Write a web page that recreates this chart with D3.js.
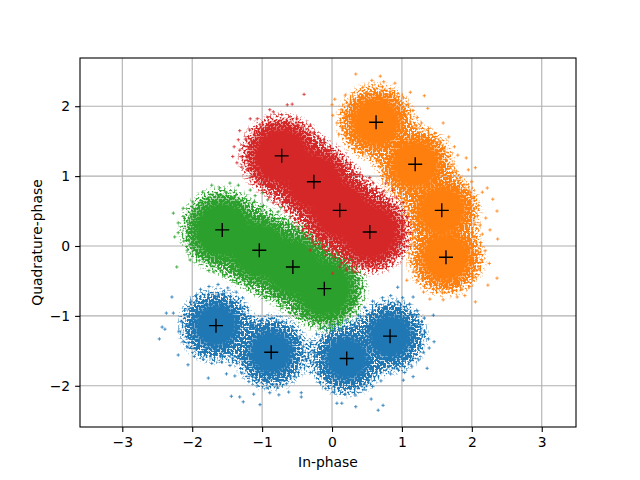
<!DOCTYPE html>
<html><head><meta charset="utf-8">
<script src="https://cdn.jsdelivr.net/npm/d3@7"></script>
<style>html,body{margin:0;padding:0;background:#fff}svg{display:block}text{font-family:"DejaVu Sans",sans-serif}</style>
</head><body><div id="c"></div>
<script>
const xTicks=[-3,-2,-1,0,1,2,3], yTicks=[-2,-1,0,1,2];
const xLabel="In-phase", yLabel="Quadrature-phase";
const constellationI=[-1.66,-0.87,0.21,0.83,0.63,1.19,1.57,1.63,-0.72,-0.26,0.11,0.54,-1.57,-1.04,-0.56,-0.11];
const constellationQ=[-1.14,-1.52,-1.61,-1.29,1.77,1.17,0.51,-0.16,1.29,0.92,0.51,0.20,0.23,-0.06,-0.30,-0.61];
const seriesNames=["blue","orange","green","red"];
const seriesColors=["#1f77b4","#ff7f0e","#2ca02c","#d62728"];
const blueDense=[[-1.66,-1.14],[-0.87,-1.52],[0.21,-1.61],[0.83,-1.29]];
const orangeDense=[[0.63,1.77],[1.19,1.17],[1.57,0.51],[1.63,-0.16]];
const greenDense=[[-1.57,0.23],[-1.04,-0.06],[-0.56,-0.30],[-0.11,-0.61]];
const redDense=[[-0.72,1.29],[-0.26,0.92],[0.11,0.51],[0.54,0.20]];
const blueCloud=[[-2.47,-1.33],[-2.43,-1.16],[-2.39,-1.19],[-2.37,-0.96],[-2.29,-0.73],[-2.27,-0.96],[-2.2,-1.56],[-2.06,-1.7],[-1.77,-1.89],[-1.44,-2.15],[-1.32,-2.16],[-1.27,-2.23],[-1.03,-2.27],[-1.12,-2.12],[-0.89,-2.1],[-0.76,-2.13],[-0.44,-2.1],[-0.44,-2.16],[0.07,-2.25],[0.14,-2.25],[0.34,-2.3],[0.56,-2.19],[0.66,-2.35],[0.73,-2.28],[0.94,-0.59],[0.94,-0.8],[1.16,-0.73],[1.32,-1.03],[1.45,-0.99],[1.46,-1.37],[1.39,-1.46],[1.36,-1.75],[1.16,-1.87],[1.02,-1.92],
[-2.11,-0.92],[-2.16,-1.08],[-2.19,-1.22],[-2.13,-1.37],[-2.06,-1.45],[-2.02,-0.79],[-1.95,-0.71],[-1.88,-0.62],[-1.76,-0.58],[-1.63,-0.55],[-1.49,-0.6],[-1.37,-0.66],[-1.28,-0.74],[-1.21,-0.88],[-1.16,-1.01],[-1.12,-1.13],[-1.97,-1.58],[-1.84,-1.62],[-1.72,-1.68],[-1.58,-1.66],[-1.46,-1.71],[-2.05,-1.12],[-2.01,-1.29],[-1.99,-0.98],[-1.94,-1.47],[-1.82,-0.79],[-1.56,-0.68],[-1.34,-1.58],[-1.51,-1.83],[-1.39,-1.86],
[-1.31,-1.42],[-1.36,-1.68],[-1.29,-1.82],[-1.19,-1.94],[-1.07,-2.0],[-0.93,-2.03],[-0.78,-2.02],[-0.65,-1.97],[-0.53,-1.87],[-0.45,-1.74],[-0.38,-1.62],[-0.41,-1.44],[-0.47,-1.3],[-0.56,-1.16],[-0.71,-1.08],[-0.86,-1.03],[-1.01,-1.06],[-0.31,-1.81],[-0.27,-1.52],[-1.23,-1.73],[-0.62,-2.09],[-1.1,-1.88],[-0.96,-1.9],[-0.7,-1.92],
[-0.26,-1.67],[-0.21,-1.82],[-0.18,-1.95],[-0.09,-2.04],[0.03,-2.09],[0.19,-2.12],[0.33,-2.13],[0.46,-2.05],[0.58,-2.01],[0.7,-1.93],[0.84,-1.83],[0.94,-1.76],[-0.3,-1.38],[-0.22,-1.26],[-0.13,-1.17],[-0.03,-1.13],[0.08,-1.11],[0.2,-1.06],[0.27,-1.17],[0.12,-2.0],[0.26,-2.04],[0.41,-1.96],[-0.05,-1.94],
[0.38,-0.99],[0.47,-0.88],[0.58,-0.79],[0.72,-0.74],[0.84,-0.71],[1.01,-0.74],[1.11,-0.83],[1.22,-0.93],[1.28,-1.08],[1.33,-1.23],[1.38,-1.33],[1.31,-1.52],[1.24,-1.63],[1.14,-1.72],[1.04,-1.81],[1.21,-1.13],[1.26,-1.42],[1.18,-0.98],[0.95,-1.68],[1.09,-1.59]];
const orangeCloud=[[0.34,2.46],[0.69,2.43],[0,2.02],[0.04,2.1],[0.19,2.16],[0.44,2.27],[0.57,2.37],[0.9,2.33],[1.12,2.2],[1.32,2.15],[1.37,1.97],[1.59,1.76],[1.67,1.56],[1.75,1.42],[1.92,1.26],[2.05,1.12],[1.95,1.09],[2.22,0.83],[2.3,0.67],[2.36,0.5],[2.26,0.23],[2.37,0.1],[2.36,-0.46],[2.23,-0.56],[2.05,-0.8],[1.79,-0.73],[1.59,-0.77],[1.4,-0.76],[1.07,-0.49],[1.14,-0.23],[0.01,1.87],[0.07,1.76],
[0.13,1.95],[0.17,1.84],[0.14,1.69],[0.19,1.58],[0.26,1.48],[0.33,1.39],[0.44,1.33],[0.57,1.31],[0.24,2.02],[0.31,2.1],[0.39,2.13],[0.5,2.19],[0.61,2.24],[0.72,2.28],[0.83,2.21],[0.94,2.18],[1.02,2.12],[1.09,2.03],[1.16,1.94],[1.22,1.84],[1.28,1.76],[1.38,1.68],[1.47,1.61],[1.53,1.49],[1.6,1.4],[1.66,1.28],[1.73,1.17],[1.78,1.07],[1.84,0.98],[1.89,0.88],[1.96,0.79],[2.03,0.7],[2.1,0.58],[2.08,0.43],[2.12,0.3],[2.15,0.17],[2.13,0.05],[2.19,-0.07],[2.14,-0.2],[2.1,-0.33],[2.03,-0.45],[1.97,-0.58],[1.86,-0.62],[1.72,-0.65],[1.58,-0.67],[1.45,-0.62],[1.32,-0.58],[1.22,-0.49],[1.17,-0.36],[1.11,-0.11],[1.13,0.02],[1.18,0.12],[1.22,0.24],[1.14,0.33],[1.09,0.47],[1.03,0.63],[0.96,0.75],[0.86,0.88],[0.78,1.02],[0.72,1.15],[0.83,1.28],[0.67,1.23],[1.8,1.3],[1.74,0.92],[2.0,0.92],[2.15,0.77],[1.98,0.57],[2.2,0.4],[2.04,0.13],[2.06,-0.12],[2.25,-0.25],[1.9,-0.71],[1.67,-0.59],[1.31,-0.66],[1.0,0.3],[1.14,0.73],[0.93,0.96],[0.48,2.03],[0.79,2.1],[1.04,1.93],[1.2,1.72],[1.42,1.48],[0.22,1.92],[0.1,1.6],[0.74,2.35],[1.87,0.72],[1.95,0.25]];
const greenCloud=[[-1.72,0.87],[-1.46,0.9],[-1.85,0.77],[-1.99,0.63],[-2.13,0.54],[-2.27,0.47],[-2.2,0.33],[-2.2,0.19],[-2.25,0.13],[-2.07,-0.06],[-2.03,-0.2],[-2.22,-0.3],[-1.34,0.87],[-1.17,0.8],[-0.99,0.76],[-0.77,0.49],[-0.5,0.23],[-0.27,0.04],[0.01,-0.17],[0.3,-0.39],[0.43,-0.6],[0.36,-0.8],[0.16,-0.96],[-0.03,-1.16],[-0.27,-1.1],[-0.6,-0.96],[-0.84,-0.73],[-1.07,-0.53],[-1.42,-0.49],[-1.63,-0.24],[-1.36,-0.53],
[-1.96,0.45],[-2.04,0.34],[-2.07,0.21],[-2.05,0.09],[-1.99,-0.02],[-1.93,-0.11],[-1.84,-0.19],[-1.74,-0.27],[-1.52,-0.32],[-1.41,-0.36],[-1.27,-0.42],[-1.18,-0.47],[-1.86,0.6],[-1.77,0.69],[-1.64,0.74],[-1.52,0.77],[-1.38,0.72],[-1.25,0.68],[-1.11,0.64],[-0.98,0.58],[-0.88,0.51],[-0.69,0.38],[-0.58,0.31],[-0.42,0.2],[-0.33,0.11],[-0.18,0.01],[-0.08,-0.08],[0.08,-0.22],[0.18,-0.33],[0.27,-0.49],[0.3,-0.64],[0.24,-0.78],[0.11,-0.86],[0.02,-0.99],[-0.11,-1.03],[-0.21,-1.01],[-0.36,-0.94],[-0.5,-0.87],[-0.63,-0.79],[-0.74,-0.71],[-0.89,-0.62],[-1.0,-0.58],[-1.14,-0.45],[-2.0,0.56],[-1.69,-0.37],[-1.9,-0.21],[-0.92,0.66],[-0.73,0.55],[-0.6,0.42],[-0.36,0.29],[-0.2,0.13],[0.04,-0.04],[0.17,-0.2],[0.39,-0.47],[0.33,-0.94],[0.09,-1.09],[-0.17,-1.18],[-0.43,-1.04],[-0.71,-0.86],[-0.96,-0.72],[-1.22,-0.57],[-1.54,-0.43],[-1.76,-0.35],[-2.12,0.07],[-2.12,0.42],[-1.61,0.83],[-1.1,0.72],[-0.65,0.18],[-0.45,0.08],[-0.14,-0.12],[0.12,-0.43],[0.05,-1.03],[-0.52,-0.98]];
const redCloud=[[-0.4,2.17],[-0.57,2.03],[-0.64,2.02],[-0.84,1.92],[-0.89,1.95],[-1.17,1.82],[-1.07,1.82],[-1.32,1.65],[-1.4,1.42],[-1.32,1.37],[-1.36,1.19],[-1.29,1.13],[-1.22,1.09],[-0.99,0.8],[-0.89,0.7],[-0.7,0.62],[-0.5,0.56],[-0.41,0.23],[-0.31,-0.06],[-0.13,-0.01],[0.01,-0.39],[0.21,-0.34],[0.44,-0.3],[0.64,-0.3],[0.87,-0.24],[1.07,-0.01],[1.12,0.19],[1.02,0.62],[0.87,0.8],[0.59,0.9],[0.26,1.13],[0.07,1.33],[-0.27,1.62],[-0.43,1.7],[-0.6,1.85],
[-1.18,1.66],[-1.24,1.53],[-1.27,1.44],[-1.2,1.27],[-1.15,1.16],[-1.05,1.03],[-0.96,0.94],[-0.84,0.84],[-0.79,0.77],[-0.62,0.7],[-0.56,0.63],[-0.44,0.47],[-0.37,0.36],[-0.28,0.27],[-0.22,0.14],[-0.16,0.08],[-0.03,-0.06],[0.05,-0.16],[0.14,-0.24],[0.28,-0.29],[0.37,-0.24],[0.52,-0.27],[0.69,-0.22],[0.79,-0.12],[0.88,-0.05],[0.96,0.06],[1.01,0.16],[1.03,0.3],[1.0,0.43],[0.93,0.56],[0.82,0.67],[0.73,0.78],[0.63,0.82],[0.49,0.93],[0.39,1.02],[0.31,1.04],[0.2,1.17],[0.11,1.22],[-0.03,1.36],[-0.13,1.45],[-0.2,1.57],[-0.35,1.61],[-0.48,1.72],[-0.65,1.78],[-0.78,1.76],[-0.91,1.72],[-1.03,1.74],[-1.1,1.58],[-1.3,1.28],[-0.92,1.84],[-0.72,1.88],[-0.5,1.82],[-0.31,1.73],[-0.12,1.52],[0.03,1.28],[0.16,1.06],[0.54,0.98],[0.77,0.9],[0.92,0.7],[1.08,0.4],[1.09,0.08],[0.98,-0.11],[0.74,-0.3],[0.33,-0.37],[0.11,-0.3],[-0.09,-0.13],[-0.24,0.02],[-0.36,0.15],[-0.52,0.38],[-0.66,0.5],[-0.84,0.62],[-1.08,0.92],[-1.17,0.98],[-1.42,1.28],[-1.34,1.52]];
const denseLists=[blueDense,orangeDense,greenDense,redDense];
const cloudLists=[blueCloud,orangeCloud,greenCloud,redCloud];
const denseRadius=[46,48,52,52];
const coreShare=[0.6,0.66,0.72,0.72];

const W=640,H=480,m={l:80,r:576,t:58,b:427};
const x=d3.scaleLinear().domain([-3.605,3.49]).range([m.l,m.r]);
const y=d3.scaleLinear().domain([-2.59,2.69]).range([m.b,m.t]);
const svg=d3.select("#c").append("svg").attr("width",W).attr("height",H);
const fmt=d=>String(d).replace("-","\u2212");
const defs=svg.append("defs");
seriesNames.forEach((n,i)=>{
  const g=defs.append("radialGradient").attr("id","g-"+n);
  [[0,1],[0.42,0.95],[0.56,0.58],[0.7,0.28],[0.85,0.12],[1,0]].forEach(([o,a])=>g.append("stop").attr("offset",o).attr("stop-color","#000").attr("stop-opacity",a));
  const u=defs.append("radialGradient").attr("id","u-"+n);
  [[0,1],[0.62,1],[0.84,0.5],[1,0]].forEach(([o,a])=>u.append("stop").attr("offset",o).attr("stop-color",seriesColors[i]).attr("stop-opacity",a));
  // the dense cores of the clouds are too thick to list point by point: give their edges a grain
  const f=defs.append("filter").attr("id","grain-"+n).attr("filterUnits","userSpaceOnUse").attr("x",0).attr("y",0).attr("width",W).attr("height",H).attr("color-interpolation-filters","sRGB");
  f.append("feTurbulence").attr("type","fractalNoise").attr("baseFrequency",0.5).attr("numOctaves",2).attr("seed",i+3).attr("result","t");
  f.append("feColorMatrix").attr("in","t").attr("type","matrix").attr("values","0 0 0 0 0  0 0 0 0 0  0 0 0 0 0  4 0 0 0 -1.5").attr("result","n");
  f.append("feComposite").attr("in","SourceAlpha").attr("in2","n").attr("operator","arithmetic").attr("k1",3.2).attr("k2",0).attr("k3",0).attr("k4",0).attr("result","s");
  const c=f.append("feComponentTransfer").attr("in","s").attr("result","mask");
  c.append("feFuncA").attr("type","linear").attr("slope",2.6).attr("intercept",-0.75);
  f.append("feFlood").attr("flood-color",seriesColors[i]).attr("flood-opacity",1).attr("result","fl");
  f.append("feComposite").attr("in","fl").attr("in2","mask").attr("operator","in");
});
// grid
svg.append("g").selectAll("line").data(xTicks).join("line").attr("x1",d=>x(d)).attr("x2",d=>x(d)).attr("y1",m.t).attr("y2",m.b).attr("stroke","#b0b0b0").attr("stroke-width",1.1);
svg.append("g").selectAll("line").data(yTicks).join("line").attr("y1",d=>y(d)).attr("y2",d=>y(d)).attr("x1",m.l).attr("x2",m.r).attr("stroke","#b0b0b0").attr("stroke-width",1.1);
const plot=svg.append("g");
const plus=s=>`M${-s},0H${s}M0,${-s}V${s}`;
seriesNames.forEach((n,i)=>{
  const g=plot.append("g");
  g.append("g").selectAll("circle").data(denseLists[i]).join("circle").attr("cx",d=>x(d[0])).attr("cy",d=>y(d[1])).attr("r",denseRadius[i]*coreShare[i]).attr("fill",`url(#u-${n})`);
  g.append("g").attr("filter",`url(#grain-${n})`).selectAll("circle").data(denseLists[i]).join("circle").attr("cx",d=>x(d[0])).attr("cy",d=>y(d[1])).attr("r",denseRadius[i]).attr("fill",`url(#g-${n})`);
  g.append("g").selectAll("path").data(cloudLists[i]).join("path").attr("d",plus(1.7)).attr("transform",d=>`translate(${x(d[0])},${y(d[1])})`).attr("stroke",seriesColors[i]).attr("stroke-width",1).attr("stroke-opacity",.8).attr("fill","none");
});
plot.append("g").selectAll("path").data(constellationI).join("path").attr("d",plus(7)).attr("transform",(d,i)=>`translate(${x(d)},${y(constellationQ[i])})`).attr("stroke","#000").attr("stroke-width",1.4).attr("fill","none");
const xa=svg.append("g").attr("transform",`translate(0,${m.b})`).call(d3.axisBottom(x).tickValues(xTicks).tickFormat(fmt).tickSize(4.9).tickPadding(4.9));
const ya=svg.append("g").attr("transform",`translate(${m.l},0)`).call(d3.axisLeft(y).tickValues(yTicks).tickFormat(fmt).tickSize(4.9).tickPadding(4.9));
[xa,ya].forEach(a=>{a.select(".domain").remove();a.selectAll("line").attr("stroke","#000").attr("stroke-width",1.1);a.selectAll("text").attr("font-size",13.9).attr("font-family",'"DejaVu Sans"').attr("fill","#000")});
svg.append("rect").attr("x",m.l).attr("y",m.t).attr("width",m.r-m.l).attr("height",m.b-m.t).attr("fill","none").attr("stroke","#000").attr("stroke-width",1.1);
svg.append("text").attr("x",(m.l+m.r)/2).attr("y",467).attr("text-anchor","middle").attr("font-size",13.9).text(xLabel);
svg.append("text").attr("transform",`translate(42,${(m.t+m.b)/2}) rotate(-90)`).attr("text-anchor","middle").attr("font-size",13.9).text(yLabel);
</script></body></html>
